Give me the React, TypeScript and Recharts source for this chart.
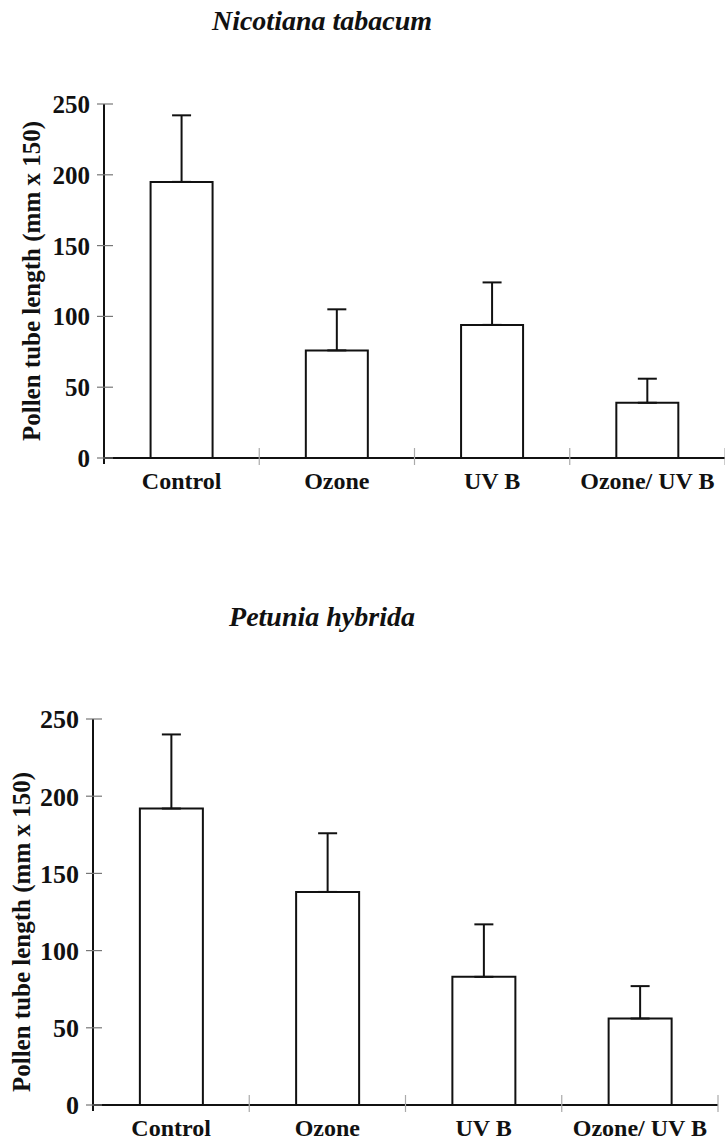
import { Bar, BarChart, ErrorBar, Label, XAxis, YAxis } from "recharts"

const treatments = ["Control", "Ozone", "UV B", "Ozone/ UV B"]
const yTicks = [0, 50, 100, 150, 200, 250]

// Nicotiana tabacum
const tabacumMean = [195, 76, 94, 39]
const tabacumErr = [47, 29, 30, 17]

// Petunia hybrida
const petuniaMean = [192, 138, 83, 56]
const petuniaErr = [48, 38, 34, 21]

const yTitle = "Pollen tube length (mm x 150)"
const font = "'Liberation Serif', 'Times New Roman', serif"

const toRows = (mean: number[], err: number[]) =>
  treatments.map((name, i) => ({ name, mean: mean[i], err: [0, err[i]] }))

const YTick = (props: any) => {
  const { x, y, payload, size } = props
  const axisX = x + 14
  return (
    <g>
      <line x1={axisX - 7} x2={axisX + 9} y1={y} y2={y} stroke="#777" strokeWidth={1.2} />
      <text x={x} y={y} dy="0.36em" textAnchor="end" fontFamily={font} fontWeight="bold" fontSize={size} fill="#111">
        {payload.value}
      </text>
    </g>
  )
}

const XTick = (props: any) => {
  const { x, y, payload, index } = props
  const axisY = y - 14
  const off = payload.offset ?? 0
  return (
    <g>
      <line x1={x + off} x2={x + off} y1={axisY - 10} y2={axisY + 7} stroke="#aaa" strokeWidth={1.2} />
      {index === 0 && <line x1={x - off} x2={x - off} y1={axisY} y2={axisY + 6} stroke="#111" strokeWidth={2} />}
      <text x={x} y={y} dy="0.71em" textAnchor="middle" fontFamily={font} fontWeight="bold" fontSize={24} fill="#111">
        {payload.value}
      </text>
    </g>
  )
}

const YTitle = (props: any) => {
  const { viewBox, cx, shift } = props
  const cy = viewBox.y + viewBox.height / 2 + shift
  return (
    <text
      x={cx}
      y={cy}
      transform={`rotate(-90, ${cx}, ${cy})`}
      textAnchor="middle"
      dominantBaseline="central"
      fontFamily={font}
      fontWeight="bold"
      fontSize={25}
      fill="#111"
    >
      {yTitle}
    </text>
  )
}

function Panel(props: {
  rows: any[]
  height: number
  margin: any
  axisWidth: number
  xHeight: number
  tickSize: number
  titleX: number
  titleShift: number
}) {
  const { rows, height, margin, axisWidth, xHeight, tickSize, titleX, titleShift } = props
  return (
    <BarChart width={725} height={height} data={rows} margin={margin} barCategoryGap="30%">
      <XAxis
        dataKey="name"
        height={xHeight}
        axisLine={{ stroke: "#111", strokeWidth: 2 }}
        tickLine={false}
        tickSize={0}
        tickMargin={14}
        tick={<XTick />}
        interval={0}
      />
      <YAxis
        width={axisWidth}
        domain={[0, 250]}
        ticks={yTicks}
        axisLine={{ stroke: "#111", strokeWidth: 2 }}
        tickLine={false}
        tickSize={0}
        tickMargin={14}
        tick={<YTick size={tickSize} />}
      >
        <Label content={<YTitle cx={titleX} shift={titleShift} />} />
      </YAxis>
      <Bar dataKey="mean" fill="#fff" stroke="#111" strokeWidth={2} isAnimationActive={false}>
        <ErrorBar dataKey="err" direction="y" width={9.5} stroke="#111" strokeWidth={2} />
      </Bar>
    </BarChart>
  )
}

const titleStyle = {
  position: "absolute" as const,
  left: 0,
  width: 644,
  textAlign: "center" as const,
  fontFamily: font,
  fontStyle: "italic",
  fontWeight: "bold",
  fontSize: 28,
  lineHeight: "28px",
  color: "#111",
}

export default function App() {
  return (
    <div style={{ position: "absolute", left: 0, top: 0, width: 725, height: 1144, background: "#fff" }}>
      <div style={{ ...titleStyle, top: 7 }}>Nicotiana tabacum</div>
      <div style={{ position: "absolute", left: 0, top: 0 }}>
        <Panel
          rows={toRows(tabacumMean, tabacumErr)}
          height={520}
          margin={{ top: 104, right: 0, left: 0, bottom: 0 }}
          axisWidth={104}
          xHeight={62}
          tickSize={25}
          titleX={31}
          titleShift={0}
        />
      </div>
      <div style={{ ...titleStyle, top: 603 }}>Petunia hybrida</div>
      <div style={{ position: "absolute", left: 0, top: 640 }}>
        <Panel
          rows={toRows(petuniaMean, petuniaErr)}
          height={504}
          margin={{ top: 79, right: 7, left: 0, bottom: 0 }}
          axisWidth={93}
          xHeight={39}
          tickSize={26}
          titleX={21}
          titleShift={20}
        />
      </div>
    </div>
  )
}
